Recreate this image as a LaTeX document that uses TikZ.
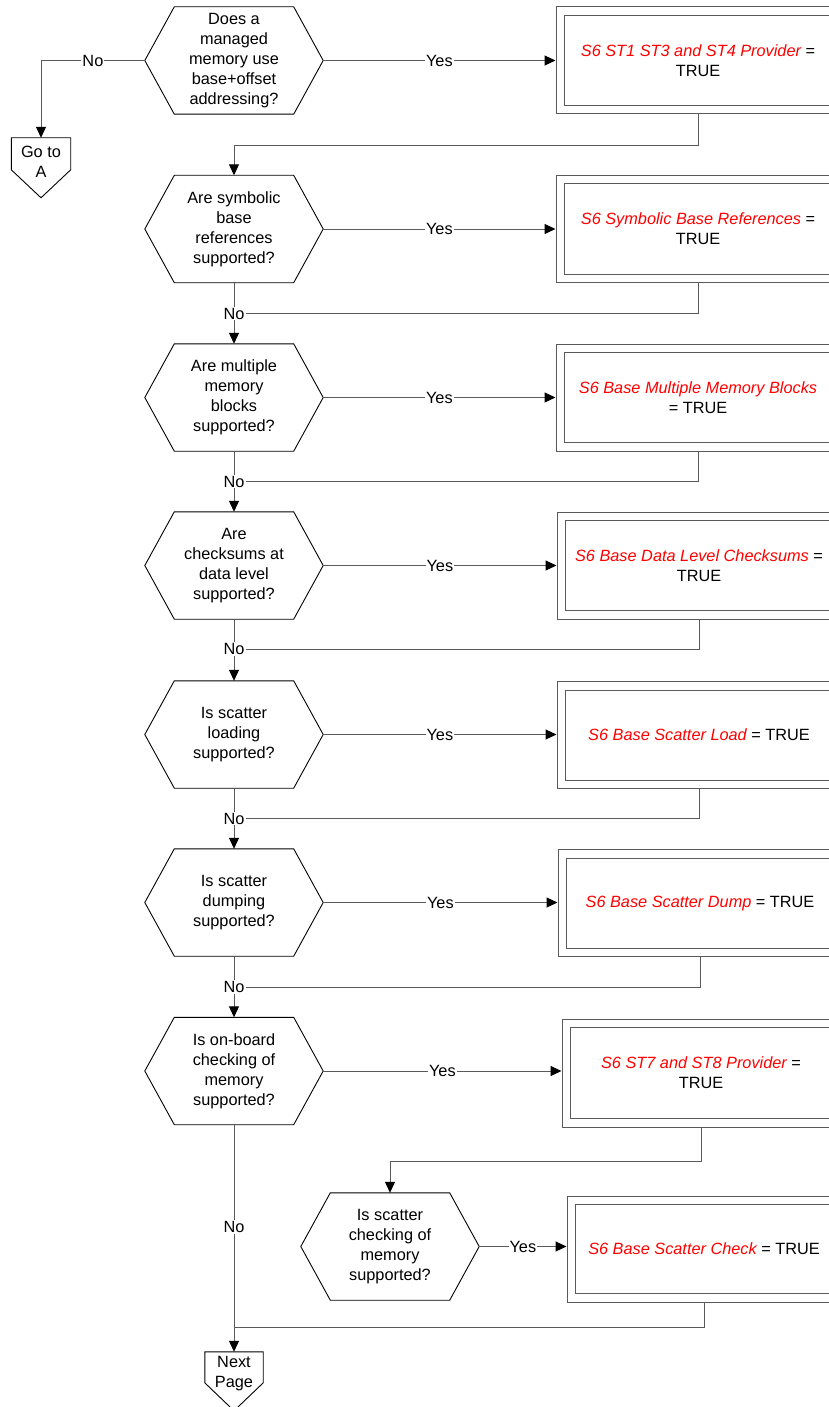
\documentclass[tikz,border=0pt]{standalone}
\usepackage{fontspec}
\setmainfont{Liberation Sans}
\usetikzlibrary{arrows.meta,calc}
\definecolor{ln}{HTML}{5A5A5A}
\definecolor{rd}{HTML}{FF0000}
\begin{document}
\begin{tikzpicture}[x=1pt,y=-1pt,
  every node/.style={font=\fontsize{16.3}{20}\selectfont, inner sep=0pt},
  hexnode/.style={minimum width=178pt, minimum height=107pt, align=center},
  boxnode/.style={draw=ln, line width=1pt, minimum width=284pt, minimum height=107pt, align=center},
  connnode/.style={minimum width=59pt, align=center},
  hexline/.style={draw=black, line width=0.9pt},
  link/.style={draw=ln, line width=1pt},
  arr/.style={link, -{Triangle[length=11pt,width=10pt,color=black,fill=black]}},
  lab/.style={fill=white, inner sep=1pt}
]
\useasboundingbox (0,0) rectangle (829,1407);
\clip (0,0) rectangle (829,1407);

% decision nodes
\node[hexnode] (q1) at (234,60.5) {Does a\\managed\\memory use\\base+offset\\addressing?};
\node[hexnode] (q2) at (234,229) {Are symbolic\\base\\references\\supported?};
\node[hexnode] (q3) at (234,397.5) {Are multiple\\memory\\blocks\\supported?};
\node[hexnode] (q4) at (234,565.5) {Are\\checksums at\\data level\\supported?};
\node[hexnode] (q5) at (234,734.5) {Is scatter\\loading\\supported?};
\node[hexnode] (q6) at (234,902.5) {Is scatter\\dumping\\supported?};
\node[hexnode] (q7) at (234,1071) {Is on-board\\checking of\\memory\\supported?};
\node[hexnode] (q8) at (390,1246.5) {Is scatter\\checking of\\memory\\supported?};

\foreach \q in {q1,q2,q3,q4,q5,q6,q7,q8}
  \draw[hexline] (\q.west) -- ([xshift=29.5pt]\q.north west) -- ([xshift=-29.5pt]\q.north east)
    -- (\q.east) -- ([xshift=-29.5pt]\q.south east) -- ([xshift=29.5pt]\q.south west) -- cycle;

% result boxes
\node[boxnode] (b1) at (698,60.5) {{\color{rd}\itshape S6 ST1 ST3 and ST4 Provider} =\\TRUE};
\node[boxnode] (b2) at (698,229) {{\color{rd}\itshape S6 Symbolic Base References} =\\TRUE};
\node[boxnode] (b3) at (698,397.5) {{\color{rd}\itshape S6 Base Multiple Memory Blocks}\\= TRUE};
\node[boxnode] (b4) at (699,565.5) {{\color{rd}\itshape S6 Base Data Level Checksums} =\\TRUE};
\node[boxnode] (b5) at (699,735) {{\color{rd}\itshape S6 Base Scatter Load} = TRUE};
\node[boxnode] (b6) at (700,903) {{\color{rd}\itshape S6 Base Scatter Dump} = TRUE};
\node[boxnode, minimum width=278pt, minimum height=108pt] (b7) at (701,1073) {{\color{rd}\itshape S6 ST7 and ST8 Provider} =\\TRUE};
\node[boxnode, minimum width=274pt, minimum height=106pt] (b8) at (704,1249) {{\color{rd}\itshape S6 Base Scatter Check} = TRUE};

\foreach \b in {b1,b2,b3,b4,b5,b6,b7,b8}
  \draw[link] ([shift={(9pt,-9pt)}]\b.north west) rectangle ([shift={(-9pt,9pt)}]\b.south east);

% off-page connectors
\node[connnode, minimum height=48pt] (ga) at (41,162) {Go to\\A};
\draw[hexline] (ga.north west) -- (ga.north east) -- ([yshift=-32pt]ga.north east)
  -- ([yshift=-60pt]ga.north) -- ([yshift=-32pt]ga.north west) -- cycle;
\node[connnode, minimum width=58pt, minimum height=44pt] (np) at (234,1374) {Next\\Page};
\draw[hexline] (np.north west) -- (np.north east) -- ([yshift=-31pt]np.north east)
  -- ([yshift=-59pt]np.north) -- ([yshift=-31pt]np.north west) -- cycle;

% No labels
\node[lab] (n2) at (234,313.5) {No};
\node[lab] (n3) at (234,481.5) {No};
\node[lab] (n4) at (234,649) {No};
\node[lab] (n5) at (234,818.5) {No};
\node[lab] (n6) at (234,987) {No};
\node[lab] (n7) at (234,1227) {No};
\coordinate (j8) at (234,1327);

% Yes connectors
\foreach \i in {1,...,8}
  \draw[arr] (q\i.east) -- node[lab]{Yes} (q\i.east -| b\i.west);

% first No
\draw[arr] (q1.west) -- node[lab]{No} (q1.west -| ga.north) -- (ga.north);
\draw[arr] (b1.south) -- ++(0,31) -| (q2.north);

% No chain
\draw[link] (q2.south) -- (n2); \draw[arr] (n2) -- (q3.north); \draw[link] (b2.south) |- (n2);
\draw[link] (q3.south) -- (n3); \draw[arr] (n3) -- (q4.north); \draw[link] (b3.south) |- (n3);
\draw[link] (q4.south) -- (n4); \draw[arr] (n4) -- (q5.north); \draw[link] (b4.south) |- (n4);
\draw[link] (q5.south) -- (n5); \draw[arr] (n5) -- (q6.north); \draw[link] (b5.south) |- (n5);
\draw[link] (q6.south) -- (n6); \draw[arr] (n6) -- (q7.north); \draw[link] (b6.south) |- (n6);

\draw[arr] (b7.south) -- ++(0,33.5) -| (q8.north);
\draw[link] (q7.south) -- (n7);
\draw[arr] (n7) -- (np.north);
\draw[link] (b8.south) |- (j8);
\end{tikzpicture}
\end{document}
